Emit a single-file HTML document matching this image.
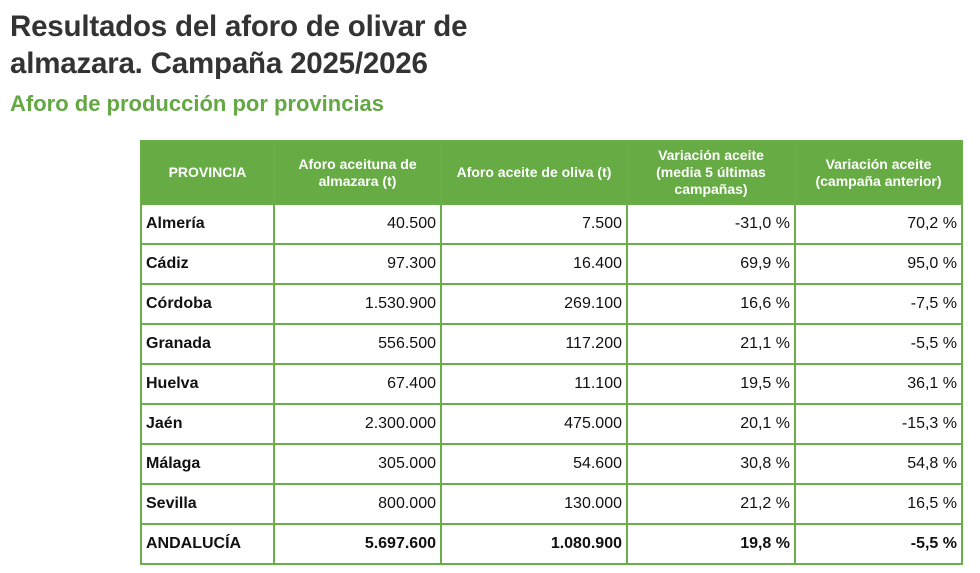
<!DOCTYPE html>
<html><head><meta charset="utf-8"><style>
body{margin:0;width:980px;height:573px;background:#fff;font-family:"Liberation Sans",sans-serif;position:relative;overflow:hidden}
.t{position:absolute;left:10px;top:8px;font-size:29.5px;font-weight:bold;color:#333;line-height:37px;letter-spacing:-0.2px}
.s{position:absolute;left:10px;top:91px;font-size:22px;font-weight:bold;color:#63a843}
table{position:absolute;left:140px;top:140px;border-collapse:collapse;table-layout:fixed}
td,th{border:2px solid #6aae48;height:38px;padding:0 4px;font-size:16px;color:#111}
th{background:#67ab45;color:#fff;font-weight:bold;font-size:14px;line-height:17px;height:61px;text-align:center}
td{text-align:right}
td:first-child{text-align:left;font-weight:bold}
tr.tot td{font-weight:bold}
</style></head><body>
<div class="t">Resultados del aforo de olivar de<br>almazara. Campaña 2025/2026</div>
<div class="s">Aforo de producción por provincias</div>
<table>
<colgroup><col style="width:133px"><col style="width:167px"><col style="width:186px"><col style="width:168px"><col style="width:167px"></colgroup>
<tr><th>PROVINCIA</th><th>Aforo aceituna de<br>almazara (t)</th><th>Aforo aceite de oliva (t)</th><th>Variación aceite<br>(media 5 últimas<br>campañas)</th><th>Variación aceite<br>(campaña anterior)</th></tr>
<tr><td>Almería</td><td>40.500</td><td>7.500</td><td>-31,0 %</td><td>70,2 %</td></tr>
<tr><td>Cádiz</td><td>97.300</td><td>16.400</td><td>69,9 %</td><td>95,0 %</td></tr>
<tr><td>Córdoba</td><td>1.530.900</td><td>269.100</td><td>16,6 %</td><td>-7,5 %</td></tr>
<tr><td>Granada</td><td>556.500</td><td>117.200</td><td>21,1 %</td><td>-5,5 %</td></tr>
<tr><td>Huelva</td><td>67.400</td><td>11.100</td><td>19,5 %</td><td>36,1 %</td></tr>
<tr><td>Jaén</td><td>2.300.000</td><td>475.000</td><td>20,1 %</td><td>-15,3 %</td></tr>
<tr><td>Málaga</td><td>305.000</td><td>54.600</td><td>30,8 %</td><td>54,8 %</td></tr>
<tr><td>Sevilla</td><td>800.000</td><td>130.000</td><td>21,2 %</td><td>16,5 %</td></tr>
<tr class="tot"><td>ANDALUCÍA</td><td>5.697.600</td><td>1.080.900</td><td>19,8 %</td><td>-5,5 %</td></tr>
</table>
</body></html>
